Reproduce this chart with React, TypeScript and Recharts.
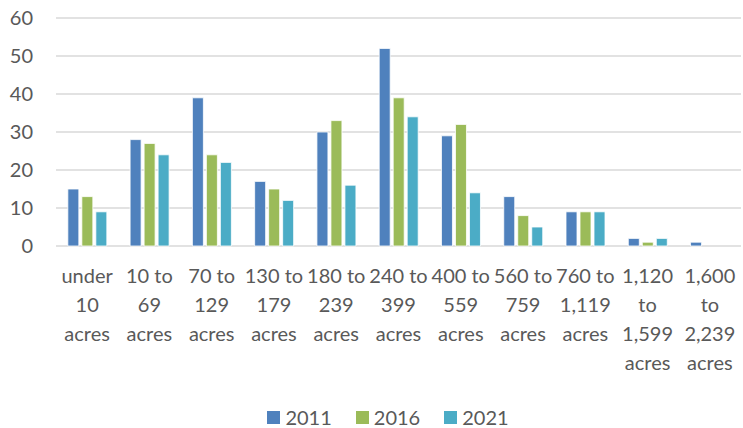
import React from 'react';
import { BarChart, Bar, XAxis, YAxis, CartesianGrid, Legend } from 'recharts';

const categories = [
  'under 10 acres',
  '10 to 69 acres',
  '70 to 129 acres',
  '130 to 179 acres',
  '180 to 239 acres',
  '240 to 399 acres',
  '400 to 559 acres',
  '560 to 759 acres',
  '760 to 1,119 acres',
  '1,120 to 1,599 acres',
  '1,600 to 2,239 acres',
];

// wrapped tick labels, as they appear under each group
const tickLines = [
  ['under', '10', 'acres'],
  ['10 to', '69', 'acres'],
  ['70 to', '129', 'acres'],
  ['130 to', '179', 'acres'],
  ['180 to', '239', 'acres'],
  ['240 to', '399', 'acres'],
  ['400 to', '559', 'acres'],
  ['560 to', '759', 'acres'],
  ['760 to', '1,119', 'acres'],
  ['1,120', 'to', '1,599', 'acres'],
  ['1,600', 'to', '2,239', 'acres'],
];

const values2011 = [15, 28, 39, 17, 30, 52, 29, 13, 9, 2, 1];
const values2016 = [13, 27, 24, 15, 33, 39, 32, 8, 9, 1, 0];
const values2021 = [9, 24, 22, 12, 16, 34, 14, 5, 9, 2, 0];

const yTicks = [0, 10, 20, 30, 40, 50, 60];

const series = [
  { key: '2011', color: '#4F81BD' },
  { key: '2016', color: '#9BBB59' },
  { key: '2021', color: '#4BACC6' },
];

const data = categories.map((name, i) => ({
  name,
  '2011': values2011[i],
  '2016': values2016[i],
  '2021': values2021[i],
}));

const FONT = 'Lato, "Open Sans", sans-serif';
const TEXT = '#595959';

function CategoryTick(props: any) {
  const { x, y, index } = props;
  const lines = tickLines[index] || [];
  return (
    <text x={x} y={y + 29} textAnchor="middle" fill={TEXT} fontSize={20} fontFamily={FONT}>
      {lines.map((line, i) => (
        <tspan key={i} x={x} dy={i === 0 ? 0 : 29}>
          {line}
        </tspan>
      ))}
    </text>
  );
}

function LegendContent() {
  return (
    <div
      style={{
        display: 'flex',
        justifyContent: 'center',
        alignItems: 'center',
        boxSizing: 'border-box',
        height: 28,
        paddingTop: 6,
        paddingLeft: 33,
        fontFamily: FONT,
        fontSize: 20,
        lineHeight: '22px',
        color: TEXT,
      }}
    >
      {series.map((s) => (
        <div key={s.key} style={{ display: 'flex', alignItems: 'center', margin: '0 12px' }}>
          <span style={{ width: 13, height: 13, background: s.color, marginRight: 5, display: 'inline-block' }} />
          <span>{s.key}</span>
        </div>
      ))}
    </div>
  );
}

export default function App() {
  return (
    <div style={{ position: 'absolute', left: 0, top: 0, background: '#fff' }}>
      <BarChart
        width={743}
        height={428}
        data={data}
        margin={{ top: 18, right: 2, left: 0, bottom: 0 }}
        barCategoryGap="19%"
        barGap={3}
      >
        <CartesianGrid vertical={false} stroke="#D9D9D9" strokeWidth={1.5} />
        <XAxis
          dataKey="name"
          interval={0}
          axisLine={false}
          tickLine={false}
          height={154}
          tick={<CategoryTick />}
        />
        <YAxis
          width={56}
          domain={[0, 60]}
          ticks={yTicks}
          axisLine={false}
          tickLine={false}
          tickMargin={17}
          tick={{ fill: TEXT, fontSize: 20, fontFamily: FONT }}
        />
        <Legend
          verticalAlign="bottom"
          wrapperStyle={{ left: 0, width: 743 }}
          content={<LegendContent />}
        />
        {series.map((s) => (
          <Bar
            key={s.key}
            dataKey={s.key}
            fill={s.color}
            stroke="#ffffff"
            strokeWidth={0.8}
            isAnimationActive={false}
          />
        ))}
      </BarChart>
    </div>
  );
}
